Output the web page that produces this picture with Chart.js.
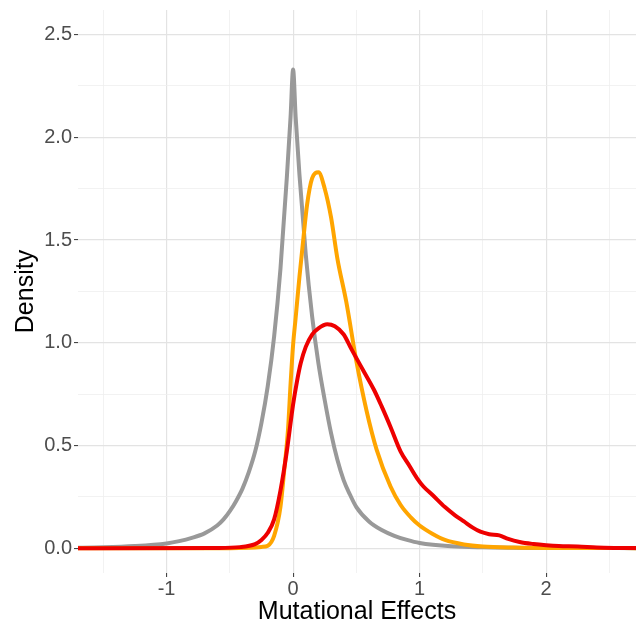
<!DOCTYPE html>
<html lang="en">
<head>
  <meta charset="UTF-8">
  <title>Mutational Effects - Density</title>
  <script src="https://cdn.jsdelivr.net/npm/chart.js"></script>
  <style>
    html, body { margin: 0; padding: 0; background: #fff; }
    #wrap { width: 638px; height: 627px; }
  </style>
</head>
<body>
  <div id="wrap"><canvas id="densityChart"></canvas></div>

  <script>
    // Curves (x = mutational effect, y = density)
    const grayX = [-1.75, -1.5, -1.25, -1.0, -0.9, -0.8, -0.7, -0.6, -0.55, -0.5, -0.45, -0.4, -0.35, -0.3, -0.25, -0.2, -0.15, -0.1, -0.05, -0.02, 0, 0.02, 0.05, 0.1, 0.15, 0.2, 0.25, 0.3, 0.35, 0.4, 0.45, 0.5, 0.6, 0.7, 0.8, 0.9, 1.0, 1.25, 1.5, 2.0, 2.75];
    const grayY = [0.002, 0.004, 0.01, 0.023, 0.034, 0.05, 0.072, 0.11, 0.14, 0.18, 0.23, 0.29, 0.37, 0.47, 0.61, 0.79, 1.03, 1.36, 1.8, 2.1, 2.33, 2.1, 1.82, 1.43, 1.13, 0.9, 0.72, 0.56, 0.43, 0.33, 0.26, 0.2, 0.13, 0.088, 0.06, 0.04, 0.025, 0.009, 0.004, 0.001, 0];

    const orangeX = [-1.75, -0.5, -0.35, -0.25, -0.2, -0.15, -0.1, -0.07, -0.04, -0.02, 0, 0.02, 0.05, 0.08, 0.11, 0.15, 0.2, 0.25, 0.3, 0.35, 0.42, 0.5, 0.58, 0.66, 0.77, 0.85, 0.93, 1.0, 1.1, 1.2, 1.35, 1.5, 1.75, 2.0, 2.75];
    const orangeY = [0, 0, 0.002, 0.006, 0.012, 0.06, 0.2, 0.38, 0.58, 0.8, 0.99, 1.12, 1.32, 1.5, 1.67, 1.8, 1.83, 1.75, 1.61, 1.41, 1.2, 0.91, 0.67, 0.48, 0.3, 0.21, 0.15, 0.11, 0.07, 0.04, 0.018, 0.008, 0.003, 0.001, 0];

    const redX = [-1.75, -0.6, -0.42, -0.3, -0.25, -0.2, -0.15, -0.1, -0.05, 0, 0.03, 0.06, 0.1, 0.15, 0.2, 0.27, 0.33, 0.4, 0.46, 0.55, 0.64, 0.7, 0.77, 0.85, 0.92, 0.98, 1.03, 1.1, 1.2, 1.28, 1.35, 1.42, 1.48, 1.55, 1.63, 1.7, 1.79, 1.9, 2.0, 2.1, 2.25, 2.4, 2.55, 2.75];
    const redY = [0, 0.001, 0.005, 0.02, 0.04, 0.075, 0.14, 0.28, 0.47, 0.7, 0.81, 0.9, 0.98, 1.04, 1.07, 1.09, 1.08, 1.04, 0.97, 0.87, 0.77, 0.69, 0.59, 0.47, 0.4, 0.34, 0.3, 0.26, 0.2, 0.16, 0.13, 0.1, 0.08, 0.068, 0.062, 0.045, 0.03, 0.02, 0.014, 0.01, 0.008, 0.003, 0.001, 0];

    // Axis breaks
    const xMajor = [-1, 0, 1, 2];
    const xLabels = ['-1', '0', '1', '2'];
    const xMinor = [-1.5, -0.5, 0.5, 1.5, 2.5];
    const yMajor = [0, 0.5, 1, 1.5, 2, 2.5];
    const yLabels = ['0.0', '0.5', '1.0', '1.5', '2.0', '2.5'];
    const yMinor = [0.25, 0.75, 1.25, 1.75, 2.25];

    const toPoints = (xs, ys) => xs.map((x, i) => ({ x: x, y: ys[i] }));
    const allTicks = (major, minor) => major.concat(minor).sort((a, b) => a - b).map(v => ({ value: v }));

    const majorGrid = '#e3e3e3';
    const minorGrid = '#efefef';
    const tickFont = { family: 'Liberation Sans, Arial, sans-serif', size: 20, lineHeight: 0.8 };
    const titleFont = { family: 'Liberation Sans, Arial, sans-serif', size: 25 };

    function gridFor(major) {
      return {
        color: ctx => major.includes(ctx.tick && ctx.tick.value) ? majorGrid : minorGrid,
        lineWidth: ctx => major.includes(ctx.tick && ctx.tick.value) ? 1.2 : 0.8,
        tickColor: ctx => major.includes(ctx.tick && ctx.tick.value) ? '#333333' : 'rgba(0,0,0,0)',
        tickWidth: 1,
        tickLength: 4,
        drawTicks: true
      };
    }

    new Chart(document.getElementById('densityChart'), {
      type: 'line',
      data: {
        datasets: [
          { data: toPoints(redX, redY), borderColor: '#ee0000', order: 1 },
          { data: toPoints(orangeX, orangeY), borderColor: '#ffa500', order: 2 },
          { data: toPoints(grayX, grayY), borderColor: '#999999', order: 3 }
        ]
      },
      options: {
        responsive: true,
        maintainAspectRatio: false,
        animation: false,
        layout: { padding: { top: 8, right: 2, bottom: 0, left: 0 } },
        elements: {
          point: { radius: 0 },
          line: { borderWidth: 4, fill: false, cubicInterpolationMode: 'monotone' }
        },
        plugins: {
          legend: { display: false },
          tooltip: { enabled: false }
        },
        scales: {
          x: {
            type: 'linear',
            min: -1.7,
            max: 2.71,
            afterBuildTicks: scale => { scale.ticks = allTicks(xMajor, xMinor); },
            afterFit: scale => { scale.height = 54; },
            grid: gridFor(xMajor),
            border: { display: false },
            ticks: {
              autoSkip: false,
              maxRotation: 0,
              padding: 4,
              color: '#4d4d4d',
              font: tickFont,
              callback: v => { const i = xMajor.indexOf(v); return i >= 0 ? xLabels[i] : ''; }
            },
            title: {
              display: true,
              text: 'Mutational Effects',
              color: '#000000',
              font: titleFont,
              padding: { top: 0, bottom: 0 }
            }
          },
          y: {
            type: 'linear',
            min: -0.121,
            max: 2.62,
            afterBuildTicks: scale => { scale.ticks = allTicks(yMajor, yMinor); },
            afterFit: scale => { scale.width = 78; },
            grid: gridFor(yMajor),
            border: { display: false },
            ticks: {
              autoSkip: false,
              padding: 2,
              color: '#4d4d4d',
              font: tickFont,
              callback: v => { const i = yMajor.indexOf(v); return i >= 0 ? yLabels[i] : ''; }
            },
            title: {
              display: true,
              text: 'Density',
              color: '#000000',
              font: titleFont,
              padding: { top: 11, bottom: 0 }
            }
          }
        }
      }
    });
  </script>
</body>
</html>
